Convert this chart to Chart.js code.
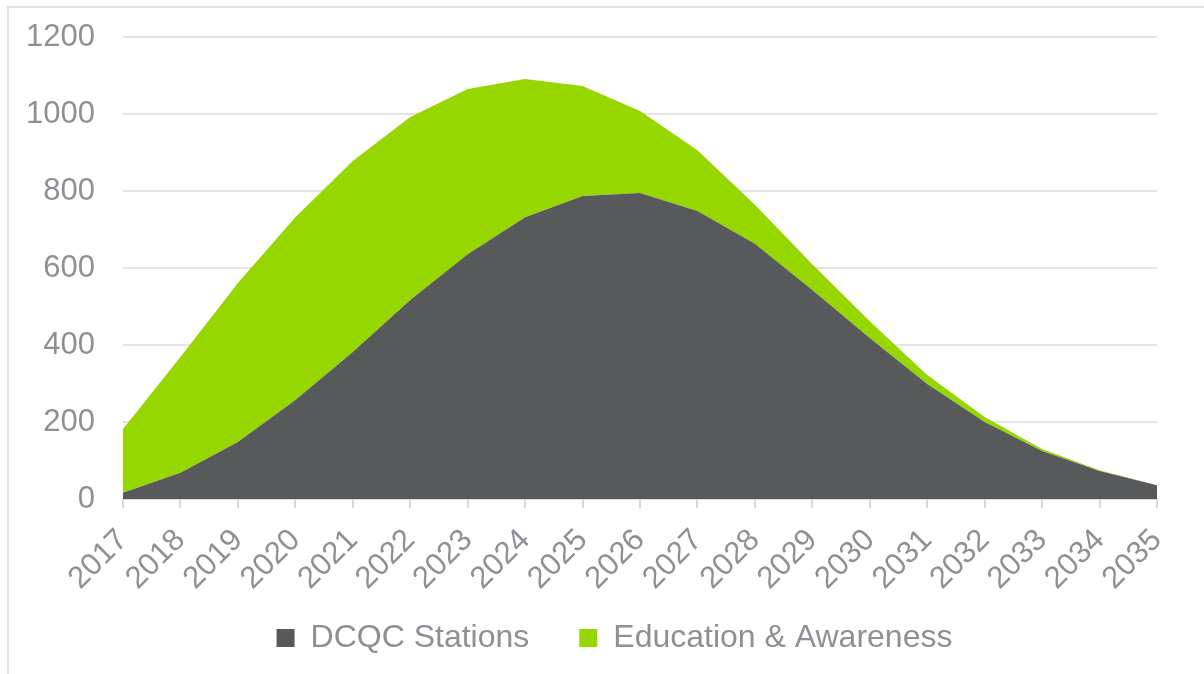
<!DOCTYPE html>
<html>
<head>
<meta charset="utf-8">
<script src="https://cdn.jsdelivr.net/npm/chart.js@4/dist/chart.umd.min.js"></script>
<style>
  html, body { margin: 0; padding: 0; background: #fff; }
  #wrap { position: relative; width: 1204px; height: 674px; }
  #frame { position: absolute; left: 7px; top: 6px; right: 0; bottom: 0;
           border-left: 2px solid #e2e2e2; border-top: 2px solid #e2e2e2; }
  canvas { position: absolute; left: 0; top: 0; }
</style>
</head>
<body>
<div id="wrap">
  <div id="frame"></div>
  <canvas id="chart" width="1204" height="674"></canvas>
</div>
<script>
const years = ['2017', '2018', '2019', '2020', '2021', '2022', '2023', '2024', '2025', '2026',
               '2027', '2028', '2029', '2030', '2031', '2032', '2033', '2034', '2035'];
const dcqcStations = [16, 68, 148, 257, 382, 517, 636, 732, 787, 795, 748, 663, 543, 418, 299, 200, 125, 73, 36];
const educationAwareness = [166, 301, 413, 475, 496, 475, 429, 359, 286, 213, 158, 101, 67, 44, 23, 13, 5, 2, 0];
const yTicks = [0, 200, 400, 600, 800, 1000, 1200];

const textGrey = '#8d9094';
const font = 'Liberation Sans, Arial, sans-serif';

// legend in the original sits a bit right of centre and higher up
const legendShift = {
  id: 'legendShift',
  afterLayout(chart) {
    const lg = chart.legend;
    lg.left += 32;
    lg.right += 32;
    lg.top -= 27;
    lg.bottom -= 27;
  }
};

const ctx = document.getElementById('chart').getContext('2d');
new Chart(ctx, {
  type: 'line',
  data: {
    labels: years,
    datasets: [
      {
        label: 'DCQC Stations',
        data: dcqcStations,
        backgroundColor: '#58595b',
        borderColor: '#58595b',
        borderWidth: 0,
        pointRadius: 0,
        fill: 'origin',
        tension: 0
      },
      {
        label: 'Education & Awareness',
        data: educationAwareness,
        backgroundColor: '#97d700',
        borderColor: '#97d700',
        borderWidth: 0,
        pointRadius: 0,
        fill: '-1',
        tension: 0
      }
    ]
  },
  plugins: [legendShift],
  options: {
    responsive: false,
    animation: false,
    layout: { padding: { left: 8, right: 47, top: 37, bottom: -17 } },
    plugins: {
      tooltip: { enabled: false },
      legend: {
        position: 'bottom',
        labels: {
          color: textGrey,
          font: { family: font, size: 32 },
          boxWidth: 18,
          boxHeight: 18,
          padding: 50
        }
      }
    },
    scales: {
      x: {
        stacked: true,
        offset: false,
        afterFit: (axis) => { axis.height = 100; },
        grid: { drawOnChartArea: false, drawTicks: true, tickLength: 9, color: '#d9d9d9', lineWidth: 2 },
        border: { color: '#d9d9d9', width: 2 },
        ticks: { color: textGrey, font: { family: font, size: 31 }, maxRotation: 45, minRotation: 45, padding: 14 }
      },
      y: {
        stacked: true,
        min: 0,
        max: 1200,
        afterBuildTicks: (axis) => { axis.ticks = yTicks.map(v => ({ value: v })); },
        afterFit: (axis) => { axis.width = 115; axis.paddingTop = 0; axis.paddingBottom = 0; },
        grid: { drawTicks: false, color: '#e4e4e4', lineWidth: 2 },
        border: { display: false },
        ticks: { color: textGrey, font: { family: font, size: 31 }, padding: 28, callback: (v) => String(v) }
      }
    }
  }
});
</script>
</body>
</html>
